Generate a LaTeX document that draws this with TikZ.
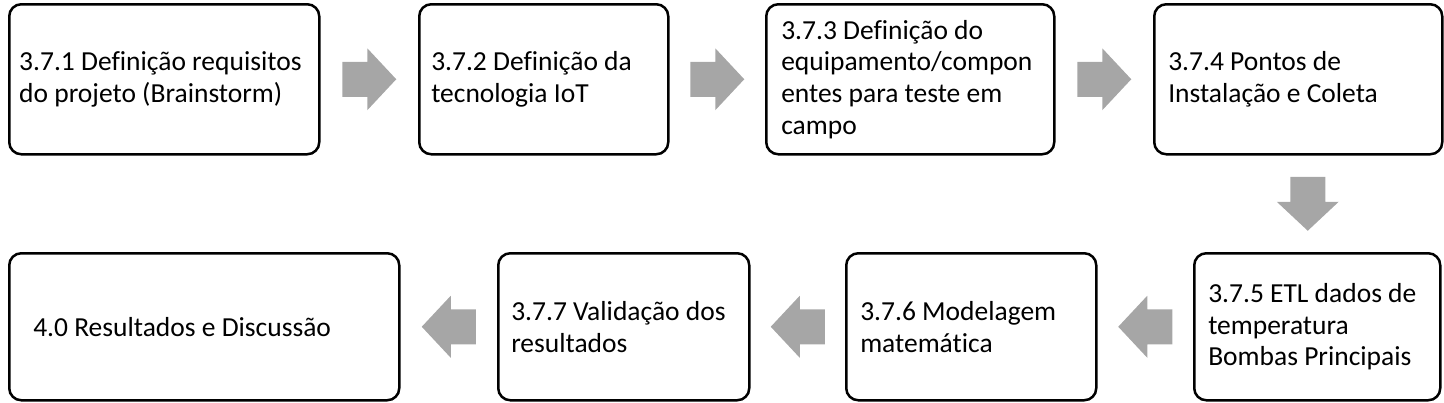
\documentclass[tikz,border=0pt]{standalone}
\usepackage{fontspec}
\setmainfont{Carlito}[Ligatures=CommonOff]
\usetikzlibrary{calc}
\definecolor{arrowgray}{RGB}{166,166,166}
\begin{document}
\begin{tikzpicture}[x=1pt,y=1pt,
  stepbox/.style={draw=black,line width=2.5pt,rounded corners=12pt,fill=white,
    anchor=north west,align=flush left,inner ysep=0pt,
    font=\fontsize{27.5}{31.7}\selectfont},
  blockarrow/.pic={\fill[arrowgray] (-27,-17.5) -- (-2,-17.5) -- (-2,-31) -- (27,0) -- (-2,31) -- (-2,17.5) -- (-27,17.5) -- cycle;}
]
\useasboundingbox (0,0) rectangle (1444,-402);
% top row
\node[stepbox,inner xsep=10pt,text width=290pt,minimum width=310pt,minimum height=150pt] (b1) at (8,-3)
  {3.7.1 Definição requisitos\\do projeto (Brainstorm)};
\node[stepbox,inner xsep=12pt,text width=225pt,minimum width=249pt,minimum height=150pt] (b2) at (418,-3)
  {3.7.2 Definição da\\tecnologia IoT};
\node[stepbox,inner xsep=15pt,text width=258pt,minimum width=288pt,minimum height=150pt] (b3) at (765,-3)
  {3.7.3 Definição do\\equipamento/compon\\entes para teste em\\campo};
\node[stepbox,inner xsep=14pt,text width=260pt,minimum width=288pt,minimum height=150pt] (b4) at (1153,-3)
  {3.7.4 Pontos de\\Instalação e Coleta};
% bottom row
\node[stepbox,inner xsep=14pt,text width=218pt,minimum width=246pt,minimum height=147pt] (b5) at (1193,-252)
  {3.7.5 ETL dados de\\temperatura\\Bombas Principais};
\node[stepbox,inner xsep=14pt,text width=222pt,minimum width=250pt,minimum height=147pt] (b6) at (845,-252)
  {3.7.6 Modelagem\\matemática};
\node[stepbox,inner xsep=13pt,text width=225pt,minimum width=251pt,minimum height=147pt] (b7) at (497,-252)
  {3.7.7 Validação dos\\resultados};
\node[stepbox,inner xsep=24pt,text width=342pt,minimum width=390pt,minimum height=147pt] (b8) at (8,-252)
  {4.0 Resultados e Discussão};
% arrows
\pic at ($(b1.east)!0.5!(b2.west)$) {blockarrow};
\pic at ($(b2.east)!0.5!(b3.west)$) {blockarrow};
\pic at ($(b3.east)!0.5!(b4.west)$) {blockarrow};
\pic[rotate=-90] at ($(b4.south)!0.5!(b5.north)$) {blockarrow};
\pic[rotate=180] at ($(b5.west)!0.5!(b6.east)$) {blockarrow};
\pic[rotate=180] at ($(b6.west)!0.5!(b7.east)$) {blockarrow};
\pic[rotate=180] at ($(b7.west)!0.5!(b8.east)$) {blockarrow};
\end{tikzpicture}
\end{document}
